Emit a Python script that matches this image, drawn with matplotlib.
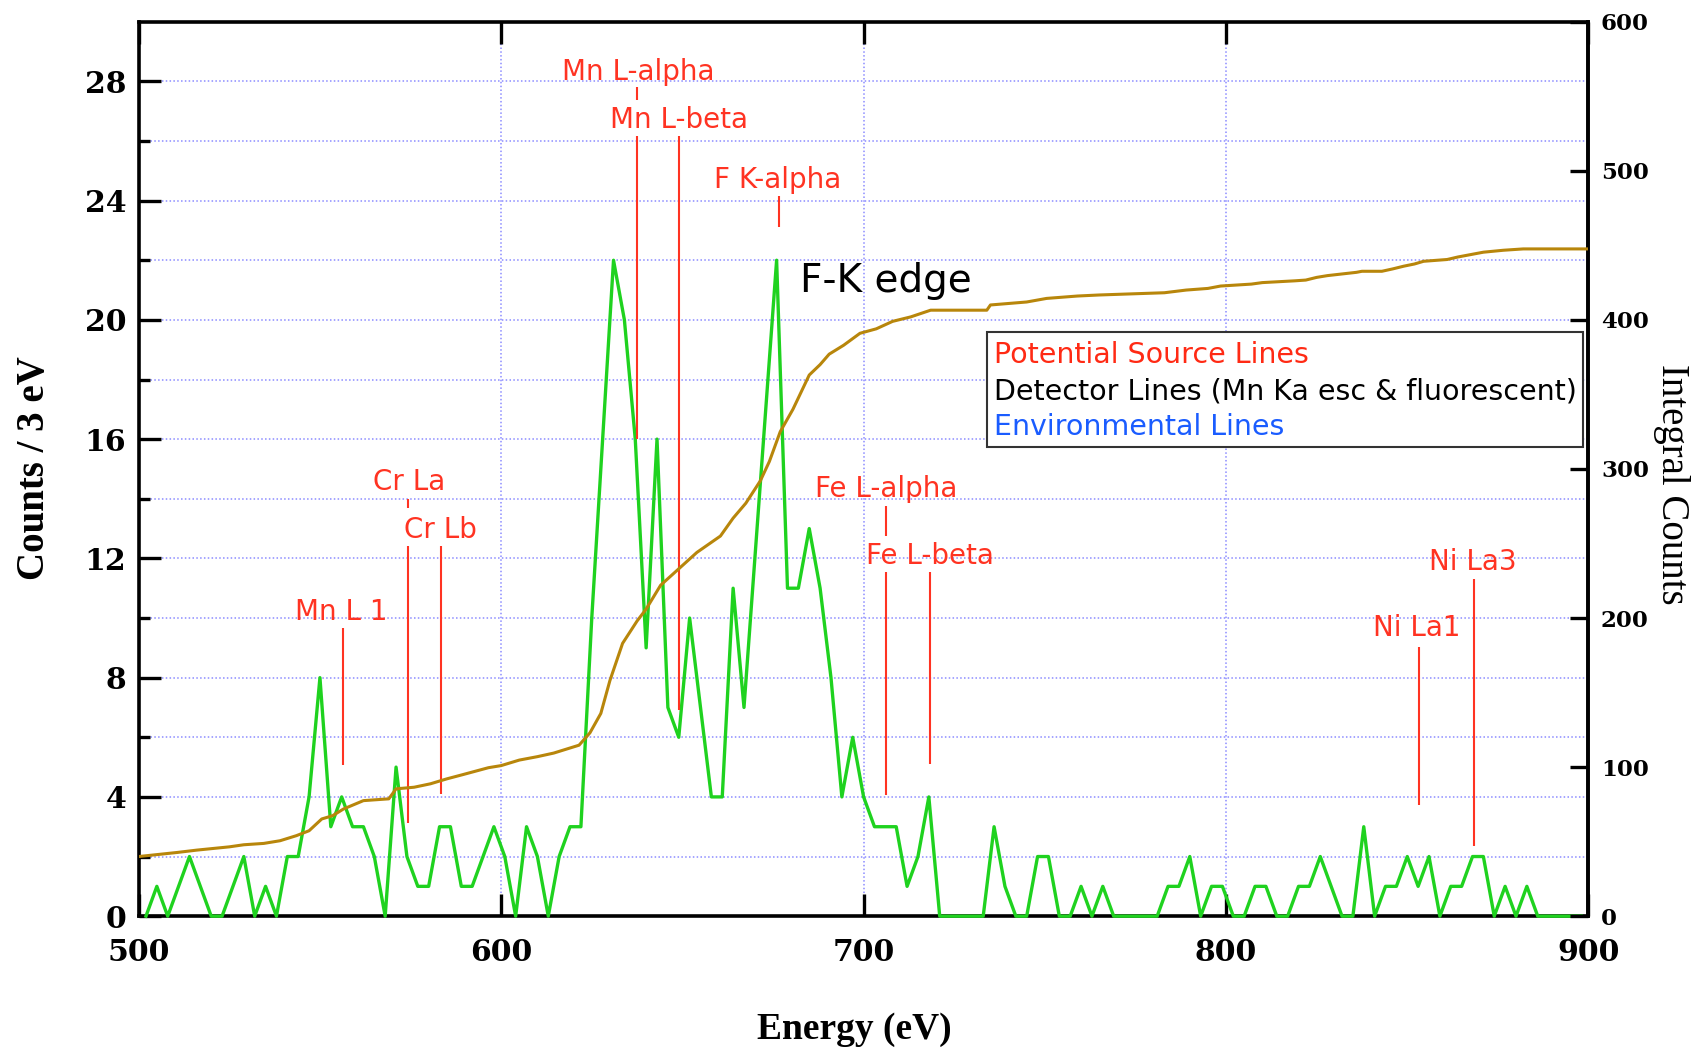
import matplotlib

matplotlib.use("Agg")
import matplotlib.pyplot as plt
from matplotlib.patches import Rectangle
import numpy as np

# spectrum, 3 eV bins starting at 500 eV (value plotted at bin centre)
bin_start = 500
bin_width = 3
counts = [
    0, 1, 0, 1, 2, 1, 0, 0, 1, 2, 0, 1, 0, 2, 2,
    4, 8, 3, 4, 3, 3, 2, 0, 5, 2, 1, 1, 3, 3, 1, 1, 2,
    3, 2, 0, 3, 2, 0, 2, 3, 3,
    10, 16, 22, 20, 16, 9, 16, 7, 6, 10,
    7, 4, 4, 11, 7, 12, 17, 22, 11, 11,
    13, 11, 8, 4, 6, 4, 3, 3, 3, 1, 2, 4,
    0, 0, 0, 0, 0, 3, 1, 0, 0, 2, 2, 0, 0,
    1, 0, 1, 0, 0, 0, 0, 0, 1, 1, 2, 0, 1, 1, 0, 0,
    1, 1, 0, 0, 1, 1, 2, 1, 0, 0, 3, 0, 1, 1, 2, 1,
    2, 0, 1, 1, 2, 2, 0, 1, 0, 1, 0, 0, 0, 0, 0,
]

# integral counts (right axis)
integral_energy = [
    500, 510.5, 516, 525, 529, 534.5, 539, 543.5, 547, 550.5,
    553.5, 556.5, 562, 569, 571, 576, 580.5, 585, 589.5, 596.5,
    600, 605, 610, 614.5, 621.5, 624.5, 627.5, 630, 633.5, 637.5,
    640, 644, 649, 654, 660.5, 664, 667.5, 671.5, 674, 677,
    680.5, 685, 688, 690.5, 694.5, 699, 703.5, 708, 713, 718.5,
    734, 735, 745, 750.5, 759, 765, 783, 789, 795, 798.5,
    807, 810, 819, 822, 825, 828, 836, 837.5, 843, 846,
    849, 852, 854.5, 861, 864, 867.5, 871, 876.5, 882, 900,
]
integral_counts = [
    40, 42.7, 44.3, 46.5, 47.9, 48.8, 50.6, 54, 57.3, 65.2,
    67.4, 71.9, 77.5, 78.7, 85.4, 86.5, 88.8, 92.1, 95, 99.6,
    101, 104.7, 107, 109.4, 114.7, 123, 136, 158, 183, 198,
    206, 222, 233, 244, 255, 267, 277, 292, 305, 325,
    340, 363, 370, 377, 383, 391, 394, 399, 402, 406.5,
    406.5, 410, 412, 414.4, 416, 416.7, 418.2, 420, 421.1, 422.7,
    424, 425, 426.2, 426.7, 428.5, 429.7, 431.9, 432.6, 432.6, 434.2,
    436, 437.5, 439.3, 440.5, 442.2, 443.8, 445.4, 446.7, 447.6, 447.6,
]

# emission-line markers
label_text = ["Mn L 1", "Cr La", "Cr Lb", "Mn L-alpha", "Mn L-beta",
              "F K-alpha", "Fe L-alpha", "Fe L-beta", "Ni La1", "Ni La3"]
label_x = [555.8, 574.5, 583.2, 637.8, 649.0, 676.2, 706.3, 718.3, 852.7, 868.1]
label_y = [10.2, 14.55, 12.94, 28.3, 26.7, 24.7, 14.33, 12.07, 9.66, 11.88]
line_x = [556.4, 574.4, 583.4, 637.6, 649.1, 706.2, 718.3, 853.3, 868.4]
line_top = [9.65, 12.4, 12.4, 26.16, 26.16, 11.53, 11.53, 9.04, 11.3]
line_bottom = [5.08, 3.12, 4.1, 16.0, 6.9, 4.08, 5.1, 3.74, 2.34]
tick_x = [574.4, 637.6, 676.6, 706.2]
tick_top = [14.0, 27.8, 24.14, 13.77]
tick_bottom = [13.7, 27.39, 23.13, 12.76]

legend_text = ["Potential Source Lines",
               "Detector Lines (Mn Ka esc & fluorescent)",
               "Environmental Lines"]
legend_colors = ["#ff2a14", "black", "#1a5cff"]

RED = "#ff3322"
GREEN = "#1fd21f"
BROWN = "#b8860b"
GRID = "#8c8cff"

energy = bin_start + bin_width * np.arange(len(counts)) + 2

fig = plt.figure(figsize=(17, 10.55), dpi=100)
ax = fig.add_axes([0.0816, 0.1316, 0.8528, 0.8478])
ax2 = ax.twinx()
for side in ("left", "top", "bottom"):
    ax2.spines[side].set_visible(False)

ax.set_xlim(500, 900)
ax.set_ylim(0, 30)
ax2.set_ylim(0, 600)

# grid (blue dotted)
for yv in np.arange(2, 30, 2):
    ax.axhline(yv, color=GRID, lw=1.1, ls=(0, (1, 1.5)), zorder=0)
for xv in (600, 700, 800):
    ax.axvline(xv, color=GRID, lw=1.1, ls=(0, (1, 1.5)), zorder=0)

ax.plot(energy, counts, color=GREEN, lw=2.4, zorder=3, clip_on=False)
ax2.plot(integral_energy, integral_counts, color=BROWN, lw=2.2, zorder=3)

ax.vlines(line_x, line_bottom, line_top, color=RED, lw=1.5, zorder=4)
ax.vlines(tick_x, tick_bottom, tick_top, color=RED, lw=1.5, zorder=4)
for t, x, y in zip(label_text, label_x, label_y):
    ax.text(x, y, t, color=RED, fontsize=20, ha="center", va="center",
            family="DejaVu Sans", zorder=5)

ax.text(682.5, 21.3, "F-K edge", color="black", fontsize=28, ha="left",
        va="center", family="DejaVu Sans", zorder=5)

# legend box
ax.add_patch(Rectangle((734, 15.75), 164.4, 3.83, facecolor="white",
                       edgecolor="#333333", lw=1.5, zorder=4))
for i, (t, c) in enumerate(zip(legend_text, legend_colors)):
    ax.text(736, 18.81 - 1.205 * i, t, color=c, fontsize=20.5, ha="left",
            va="center", family="DejaVu Sans", zorder=5)

# ticks and spines
ax.set_xticks([500, 600, 700, 800, 900])
ax.set_yticks(np.arange(0, 29, 4))
ax.set_yticks(np.arange(2, 30, 4), minor=True)
ax2.set_yticks(np.arange(0, 601, 100))
ax.tick_params(axis="x", which="major", direction="in", length=16, width=2.4,
               top=True, pad=16)
ax.tick_params(axis="y", which="major", direction="in", length=16, width=2.4,
               pad=9)
ax.tick_params(axis="y", which="minor", direction="in", length=8, width=2.4)
ax2.tick_params(axis="y", direction="in", length=13, width=2.4, pad=9)
for a, size in ((ax, 21.5), (ax2, 16.5)):
    for lab in a.get_xticklabels() + a.get_yticklabels():
        lab.set_family("DejaVu Serif")
        lab.set_fontweight("bold")
        lab.set_fontsize(size)
    for sp in a.spines.values():
        sp.set_linewidth(2.6)

ax.set_xlabel("Energy (eV)", family="Liberation Serif", fontweight="bold",
              fontsize=27, va="center")
ax.xaxis.set_label_coords(0.4937, -0.127)
ax.set_ylabel("Counts / 3 eV", family="Liberation Serif", fontweight="bold",
              fontsize=28, va="center")
ax.yaxis.set_label_coords(-0.0716, 0.501)
ax2.set_ylabel("Integral Counts", family="Liberation Serif", fontsize=28,
               rotation=270, va="center")
ax2.yaxis.set_label_coords(1.057, 0.4825)

fig.savefig("out.png", dpi=100, facecolor="white")
